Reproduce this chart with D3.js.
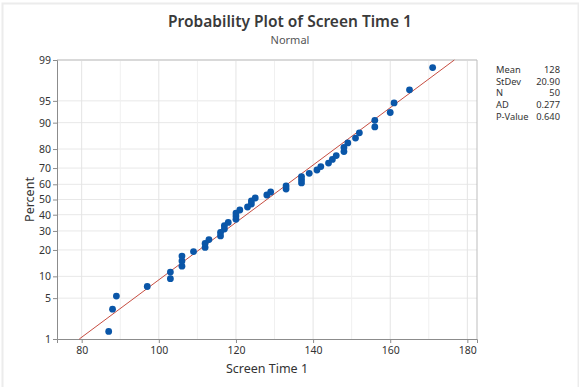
<!DOCTYPE html>
<html>
<head>
<meta charset="utf-8">
<script src="https://cdn.jsdelivr.net/npm/d3@7"></script>
<style>
  html, body { margin: 0; padding: 0; background: #fff; }
  svg { display: block; }
  text { font-family: "Noto Sans", "Open Sans", sans-serif; }
</style>
</head>
<body>
<script>
// ---- data ----
const screenTime = [87, 88, 89, 97, 103, 103, 106, 106, 106, 109,
  112, 112, 113, 116, 116, 117, 117, 118, 120, 120,
  120, 121, 123, 124, 124, 125, 128, 129, 133, 133,
  137, 137, 137, 139, 141, 142, 144, 145, 146, 148,
  148, 149, 151, 152, 156, 156, 160, 161, 165, 171];
const yTicks = [1, 5, 10, 20, 30, 40, 50, 60, 70, 80, 90, 95, 99];
const xTicks = [80, 100, 120, 140, 160, 180];
const xGrid = [80, 90, 100, 110, 120, 130, 140, 150, 160, 170, 180];
const statLabels = ["Mean", "StDev", "N", "AD", "P-Value"];
const statValues = ["128", "20.90", "50", "0.277", "0.640"];
const fitMean = 128, fitSd = 20.90;

// inverse standard normal (Acklam)
function qnorm(p) {
  const a = [-3.969683028665376e+01, 2.209460984245205e+02, -2.759285104469687e+02, 1.383577518672690e+02, -3.066479806614716e+01, 2.506628277459239e+00];
  const b = [-5.447609879822406e+01, 1.615858368580409e+02, -1.556989798598866e+02, 6.680131188771972e+01, -1.328068155288572e+01];
  const c = [-7.784894002430293e-03, -3.223964580411365e-01, -2.400758277161838e+00, -2.549671681465006e+00, 4.374664141464968e+00, 2.938163982698783e+00];
  const d = [7.784695709041462e-03, 3.224671290700398e-01, 2.445134137142996e+00, 3.754408661907416e+00];
  const pl = 0.02425;
  let q, r;
  if (p < pl) { q = Math.sqrt(-2 * Math.log(p)); return (((((c[0]*q+c[1])*q+c[2])*q+c[3])*q+c[4])*q+c[5]) / ((((d[0]*q+d[1])*q+d[2])*q+d[3])*q+1); }
  if (p > 1 - pl) { q = Math.sqrt(-2 * Math.log(1 - p)); return -(((((c[0]*q+c[1])*q+c[2])*q+c[3])*q+c[4])*q+c[5]) / ((((d[0]*q+d[1])*q+d[2])*q+d[3])*q+1); }
  q = p - 0.5; r = q * q;
  return (((((a[0]*r+a[1])*r+a[2])*r+a[3])*r+a[4])*r+a[5])*q / (((((b[0]*r+b[1])*r+b[2])*r+b[3])*r+b[4])*r+1);
}

const W = 579, H = 387;
const L = 57, R = 477, T = 60, B = 339;

const svg = d3.select("body").append("svg").attr("width", W).attr("height", H);

// outer frame
svg.append("rect").attr("x", 2.5).attr("y", 3.5).attr("width", 576).attr("height", 390)
  .attr("fill", "none").attr("stroke", "#ececec").attr("stroke-width", 2);

const x = d3.scaleLinear().domain([73.6, 182.5]).range([L, R]);
const zScale = d3.scaleLinear().domain([qnorm(0.01), qnorm(0.99)]).range([B, T]);
const y = p => zScale(qnorm(p / 100));

// grid
const g = svg.append("g");
g.selectAll(".hg").data(yTicks.filter(v => v !== 1 && v !== 99)).enter().append("line")
  .attr("x1", L).attr("x2", R).attr("y1", d => y(d)).attr("y2", d => y(d))
  .attr("stroke", "#e8e8e8").attr("stroke-width", 1);
g.selectAll(".vg").data(xGrid).enter().append("line")
  .attr("x1", d => x(d)).attr("x2", d => x(d)).attr("y1", T).attr("y2", B)
  .attr("stroke", d => d % 20 === 0 ? "#e4e4e4" : "#f0f0f0").attr("stroke-width", 1);

// frame top & right
svg.append("line").attr("x1", L).attr("x2", R).attr("y1", T).attr("y2", T).attr("stroke", "#d9d9d9").attr("stroke-width", 2);
svg.append("line").attr("x1", R).attr("x2", R).attr("y1", T).attr("y2", B).attr("stroke", "#bdbdbd").attr("stroke-width", 1);

// axes
const xAxis = d3.axisBottom(x).tickValues(xTicks).tickSize(4).tickPadding(4);
const yAxis = d3.axisLeft(zScale).tickValues(yTicks.map(v => qnorm(v / 100))).tickFormat((d, i) => yTicks[i]).tickSize(4).tickPadding(2);

const gx = svg.append("g").attr("transform", `translate(0,${B})`).call(xAxis);
const gy = svg.append("g").attr("transform", `translate(${L},0)`).call(yAxis);
[gx, gy].forEach(a => {
  a.select(".domain").attr("stroke", "#8c8c8c");
  a.selectAll(".tick line").attr("stroke", "#8c8c8c");
  a.selectAll("text").attr("fill", "#333").attr("font-size", 10.5).attr("font-family", "'Noto Sans', sans-serif");
});

// fit line
const fitP = [1, 99];
svg.append("line")
  .attr("x1", x(fitMean + qnorm(fitP[0] / 100) * fitSd)).attr("y1", y(fitP[0]))
  .attr("x2", x(fitMean + qnorm(fitP[1] / 100) * fitSd)).attr("y2", y(fitP[1]))
  .attr("stroke", "#c0392b").attr("stroke-width", 0.9);

// points (median ranks)
const n = screenTime.length;
svg.append("g").selectAll("circle").data(screenTime).enter().append("circle")
  .attr("cx", d => x(d))
  .attr("cy", (d, i) => y((i + 1 - 0.3) / (n + 0.4) * 100))
  .attr("r", 3.4).attr("fill", "#0a56a8");

// titles
svg.append("text").attr("x", 290).attr("y", 27).attr("text-anchor", "middle")
  .attr("font-family", "'Open Sans', 'Noto Sans', sans-serif")
  .attr("font-size", 15.5).attr("font-weight", 600).attr("fill", "#3a3a3a").text("Probability Plot of Screen Time 1");
svg.append("text").attr("x", 290).attr("y", 44).attr("text-anchor", "middle")
  .attr("font-size", 11).attr("fill", "#555").text("Normal");
svg.append("text").attr("x", (L + R) / 2).attr("y", 373).attr("text-anchor", "middle")
  .attr("font-size", 12.5).attr("fill", "#333").text("Screen Time 1");
svg.append("text").attr("transform", `translate(34,${(T + B) / 2}) rotate(-90)`).attr("text-anchor", "middle")
  .attr("font-size", 12.5).attr("fill", "#333").text("Percent");

// stats legend
const sg = svg.append("g");
statLabels.forEach((lab, i) => {
  const yy = 73 + i * 11.7;
  sg.append("text").attr("x", 496).attr("y", yy).attr("font-size", 9.3).attr("fill", "#333").text(lab);
  sg.append("text").attr("x", 560).attr("y", yy).attr("text-anchor", "end").attr("font-size", 9.3).attr("fill", "#333").text(statValues[i]);
});
</script>
</body>
</html>
